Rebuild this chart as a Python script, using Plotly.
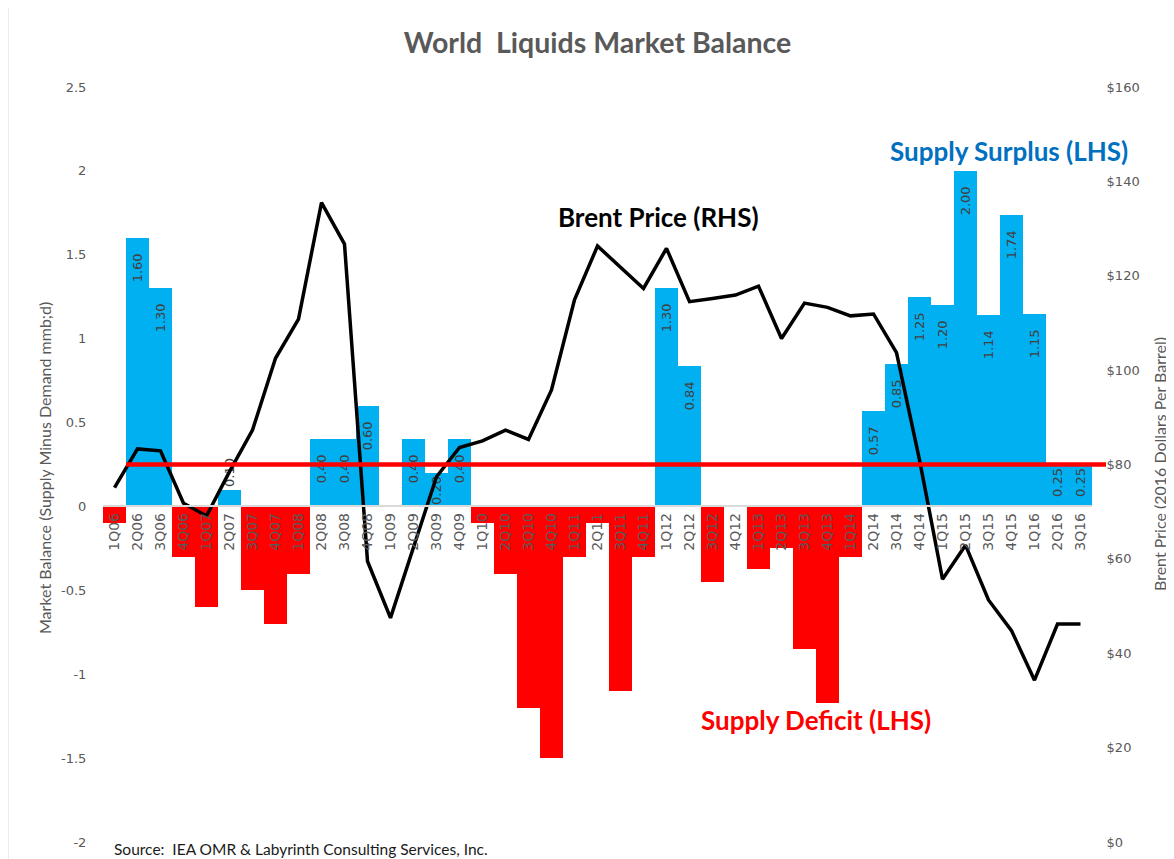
import plotly.graph_objects as go

# ---------------- data ----------------
categories = ["1Q06", "2Q06", "3Q06", "4Q06", "1Q07", "2Q07", "3Q07", "4Q07", "1Q08",
              "2Q08", "3Q08", "4Q08", "1Q09", "2Q09", "3Q09", "4Q09", "1Q10", "2Q10",
              "3Q10", "4Q10", "1Q11", "2Q11", "3Q11", "4Q11", "1Q12", "2Q12", "3Q12",
              "4Q12", "1Q13", "2Q13", "3Q13", "4Q13", "1Q14", "2Q14", "3Q14", "4Q14",
              "1Q15", "2Q15", "3Q15", "4Q15", "1Q16", "2Q16", "3Q16"]

market_balance = [-0.10, 1.60, 1.30, -0.30, -0.60, 0.10, -0.50, -0.70, -0.40,
                  0.40, 0.40, 0.60, 0.00, 0.40, 0.20, 0.40, -0.10, -0.40,
                  -1.20, -1.50, -0.30, -0.10, -1.10, -0.30, 1.30, 0.84, -0.45,
                  0.00, -0.37, -0.25, -0.85, -1.17, -0.30, 0.57, 0.85, 1.25,
                  1.20, 2.00, 1.14, 1.74, 1.15, 0.25, 0.25]

brent_price = [75.1, 83.3, 82.9, 71.8, 69.1, 78.5, 87.3, 102.5, 110.8,
               135.5, 126.7, 59.5, 47.5, 62.5, 77.4, 83.6, 85.0, 87.3,
               85.3, 95.8, 114.9, 126.3, 121.9, 117.3, 125.8, 114.5, 115.2,
               115.9, 117.8, 106.7, 114.2, 113.3, 111.5, 111.9, 103.7, 81.0,
               55.7, 62.9, 51.3, 44.8, 34.3, 46.2, 46.2]

reference_price = 80  # horizontal red line on the price axis

left_tick_vals = [-2, -1.5, -1, -0.5, 0, 0.5, 1, 1.5, 2, 2.5]
left_tick_text = ["-2", "-1.5", "-1", "-0.5", "0", "0.5", "1", "1.5", "2", "2.5"]
right_tick_vals = [0, 20, 40, 60, 80, 100, 120, 140, 160]
right_tick_text = ["$0", "$20", "$40", "$60", "$80", "$100", "$120", "$140", "$160"]

# ---------------- geometry helpers ----------------
# The page body has an 8px default margin, so the figure is made 8px smaller
# and all page-pixel positions below refer to the browser window.
PAGE_OFF = 8
PAGE_W, PAGE_H = 1174, 859
W, H = PAGE_W - PAGE_OFF, PAGE_H - PAGE_OFF
PLOT_L, PLOT_R, PLOT_T, PLOT_B = 103, 1092, 87, 842  # page pixels of plot area
L = PLOT_L - PAGE_OFF
T = PLOT_T - PAGE_OFF
R = PAGE_W - PLOT_R
B = PAGE_H - PLOT_B
PW, PH = PLOT_R - PLOT_L, PLOT_B - PLOT_T
LEFT_MIN, LEFT_MAX = -2, 2.5


def px_x(p):
    return (p - PLOT_L) / PW


def px_y(p):
    return (PLOT_B - p) / PH


BLUE = "#00B0F0"
RED = "#FF0000"
GRAY = "#595959"
NB = "\u00a0"

bar_colors = [BLUE if v > 0 else RED for v in market_balance]
bar_text = [(f"{v:.2f}" + (NB * 3 if v >= 0.3 else "")) if v > 0 else "" for v in market_balance]
bar_textpos = ["outside" if 0 < v < 0.15 else "inside" for v in market_balance]

fig = go.Figure()

fig.add_trace(go.Bar(
    x=categories, y=market_balance,
    marker=dict(color=bar_colors, line=dict(width=0)),
    text=bar_text, textposition=bar_textpos, insidetextanchor="end",
    textangle=-90, constraintext="none", cliponaxis=False,
    textfont=dict(family="DejaVu Sans", size=13, color="#404040"),
    outsidetextfont=dict(family="DejaVu Sans", size=13, color="#404040"),
    width=1, showlegend=False, hoverinfo="x+y",
))

fig.add_trace(go.Scatter(
    x=categories, y=brent_price, yaxis="y2", mode="lines",
    line=dict(color="black", width=3.5), showlegend=False,
))

zero_pos = (0 - LEFT_MIN) / (LEFT_MAX - LEFT_MIN)

fig.update_layout(
    width=W, height=H,
    margin=dict(l=L, r=R, t=T, b=B),
    paper_bgcolor="white", plot_bgcolor="white",
    bargap=0,
    title=dict(text="<b>World  Liquids Market Balance</b>", x=0.5, xref="paper",
               xanchor="center", yref="container", y=1 - (43 - PAGE_OFF) / H,
               yanchor="middle",
               font=dict(family="Lato", size=28.5, color=GRAY)),
    xaxis=dict(type="category", range=[-0.5, len(categories) - 0.5],
               showgrid=False, zeroline=False, showline=True,
               linecolor="#D9D9D9", linewidth=2, ticks="",
               tickangle=-90, tickfont=dict(family="DejaVu Sans", size=14, color=GRAY),
               anchor="free", position=zero_pos, automargin=False),
    yaxis=dict(range=[LEFT_MIN, LEFT_MAX], tickvals=left_tick_vals, ticktext=left_tick_text,
               showgrid=False, zeroline=False, showline=False,
               ticks="outside", ticklen=13, tickcolor="rgba(0,0,0,0)",
               tickfont=dict(family="DejaVu Sans", size=13, color=GRAY), automargin=False),
    yaxis2=dict(range=[0, 160], tickvals=right_tick_vals, ticktext=right_tick_text,
                overlaying="y", side="right", showgrid=False, zeroline=False,
                showline=False, ticks="outside", ticklen=11, tickcolor="rgba(0,0,0,0)",
                tickfont=dict(family="DejaVu Sans", size=13, color=GRAY), automargin=False),
    shapes=[
        dict(type="line", xref="paper", yref="y2",
             x0=px_x(PLOT_L + PW / len(categories)), x1=px_x(1106),
             y0=reference_price, y1=reference_price,
             line=dict(color=RED, width=4.5), layer="above"),
        dict(type="line", xref="paper", yref="paper",
             x0=px_x(PAGE_OFF), x1=px_x(PAGE_OFF), y0=px_y(PAGE_OFF), y1=px_y(PAGE_H),
             line=dict(color="#D9D9D9", width=1)),
    ],
    annotations=[
        dict(text="<b>Supply Surplus (LHS)</b>", xref="paper", yref="paper",
             x=px_x(1009), y=px_y(151), xanchor="center", yanchor="middle",
             showarrow=False, font=dict(family="Lato", size=26, color="#0070C0")),
        dict(text="<b>Brent Price (RHS)</b>", xref="paper", yref="paper",
             x=px_x(658), y=px_y(217), xanchor="center", yanchor="middle",
             showarrow=False, font=dict(family="Lato", size=26, color="black")),
        dict(text="<b>Supply Deficit (LHS)</b>", xref="paper", yref="paper",
             x=px_x(816), y=px_y(720), xanchor="center", yanchor="middle",
             showarrow=False, font=dict(family="Lato", size=26, color=RED)),
        dict(text="Source:  IEA OMR & Labyrinth Consulting Services, Inc.",
             xref="paper", yref="paper", x=px_x(112), y=px_y(849),
             xanchor="left", yanchor="middle", showarrow=False,
             font=dict(family="Lato", size=15.5, color="#1a1a1a")),
        dict(text="Market Balance (Supply Minus Demand mmb;d)", xref="paper", yref="paper",
             x=px_x(45), y=px_y(468), xanchor="center", yanchor="middle",
             textangle=-90, showarrow=False,
             font=dict(family="Lato", size=16, color=GRAY)),
        dict(text="Brent Price (2016 Dollars Per Barrel)", xref="paper", yref="paper",
             x=px_x(1159), y=px_y(464), xanchor="center", yanchor="middle",
             textangle=-90, showarrow=False,
             font=dict(family="Lato", size=16, color=GRAY)),
    ],
)

fig.write_html("out.html")
